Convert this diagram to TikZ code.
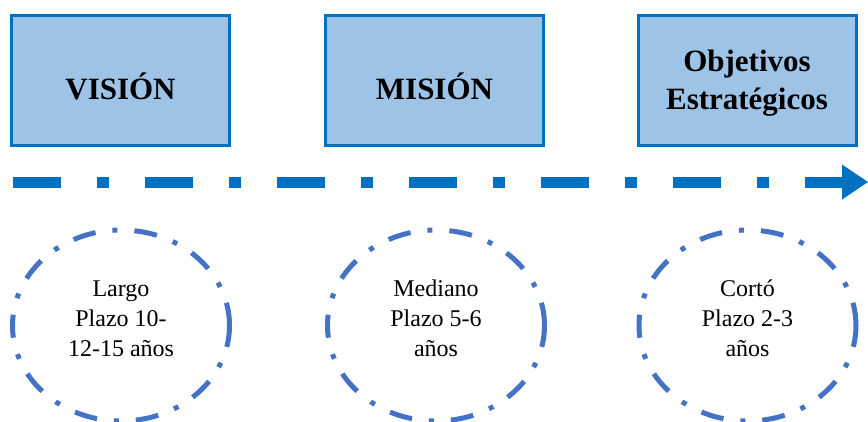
\documentclass[tikz,border=0pt]{standalone}
\usepackage{fontspec}
\setmainfont{Liberation Serif}
\usetikzlibrary{shapes.geometric,arrows.meta}
\definecolor{boxfill}{HTML}{9DC3E6}
\definecolor{boxline}{HTML}{0070C0}
\definecolor{ovalline}{HTML}{4472C4}
\begin{document}
\begin{tikzpicture}[x=1pt,y=-1pt,
  stagebox/.style={rectangle, draw=boxline, fill=boxfill, line width=3pt,
    minimum width=218pt, minimum height=130pt, inner sep=0pt},
  stagetext/.style={inner sep=0pt, align=center,
    font=\fontsize{31pt}{38pt}\selectfont\bfseries},
  termoval/.style={ellipse, draw=ovalline, line width=5pt,
    dash pattern=on 23pt off 17pt on 5pt off 17pt,
    minimum width=217pt, minimum height=191pt, inner sep=0pt},
  termtext/.style={inner sep=0pt, align=center,
    font=\fontsize{24pt}{30pt}\selectfont},
  timeline/.style={draw=boxline, line width=11pt,
    dash pattern=on 48pt off 36pt on 12pt off 36pt,
    -{Triangle[length=26pt,width=35pt,line width=0pt]}}]
  \useasboundingbox (0,0) rectangle (868,421);

  % stage boxes
  \node[stagebox] (vision) at (120.5,80.5) {};
  \node[stagebox] (mision) at (434.5,80.5) {};
  \node[stagebox] (objetivos) at (747,80.5) {};
  \node[stagetext] (visiontext) at ([yshift=-6pt]vision.center) {VISIÓN};
  \node[stagetext] (misiontext) at ([yshift=-6pt]mision.center) {MISIÓN};
  \node[stagetext] (objetivostext) at ([yshift=-3pt]objetivos.center) {Objetivos\\Estratégicos};

  % time axis
  \coordinate (tstart) at (13,182);
  \coordinate (tend) at (868,182);
  \draw[timeline] (tstart) -- (tend);

  % horizons
  \node[termoval] (largo) at (121,325.5) {};
  \node[termoval] (mediano) at (436,325.5) {};
  \node[termoval] (corto) at (747.5,325.5) {};
  \node[termtext] (largotext) at ([yshift=7pt]largo.center) {Largo\\Plazo 10-\\12-15 años};
  \node[termtext] (medianotext) at ([yshift=7pt]mediano.center) {Mediano\\Plazo 5-6\\años};
  \node[termtext] (cortotext) at ([yshift=7pt]corto.center) {Cortó\\Plazo 2-3\\años};
\end{tikzpicture}
\end{document}
